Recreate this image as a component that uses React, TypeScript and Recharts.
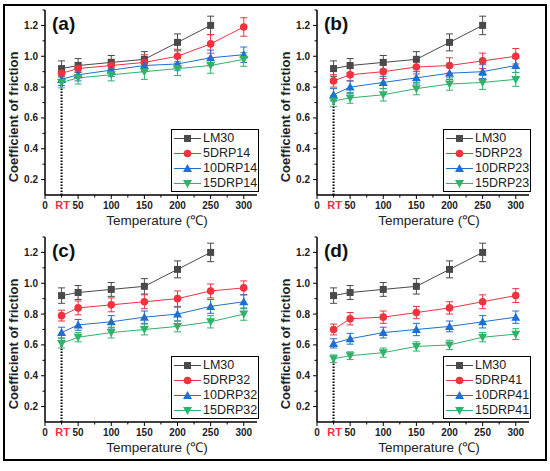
import React from "react";
import { LineChart, Line, XAxis, YAxis, ErrorBar, ReferenceLine } from "recharts";

// temperatures (RT plotted at 25)
const temps = [25, 50, 100, 150, 200, 250, 300];

const lm30 = [0.92, 0.94, 0.96, 0.98, 1.09, 1.2, null];
const lm30Err = [0.05, 0.045, 0.045, 0.05, 0.055, 0.06, null];

const drp14_5 = [0.89, 0.92, 0.94, 0.96, 1.0, 1.08, 1.19];
const drp14_5Err = [0.045, 0.04, 0.04, 0.05, 0.045, 0.06, 0.06];
const drp14_10 = [0.85, 0.88, 0.91, 0.94, 0.95, 0.99, 1.01];
const drp14_10Err = [0.04, 0.04, 0.04, 0.04, 0.04, 0.05, 0.05];
const drp14_15 = [0.83, 0.86, 0.88, 0.9, 0.92, 0.94, 0.98];
const drp14_15Err = [0.035, 0.04, 0.04, 0.05, 0.045, 0.05, 0.045];

const drp23_5 = [0.84, 0.88, 0.9, 0.93, 0.94, 0.97, 1.0];
const drp23_5Err = [0.04, 0.04, 0.045, 0.045, 0.05, 0.05, 0.05];
const drp23_10 = [0.75, 0.8, 0.83, 0.86, 0.89, 0.9, 0.94];
const drp23_10Err = [0.04, 0.04, 0.04, 0.04, 0.04, 0.045, 0.045];
const drp23_15 = [0.71, 0.73, 0.75, 0.79, 0.82, 0.83, 0.85];
const drp23_15Err = [0.035, 0.035, 0.04, 0.04, 0.04, 0.045, 0.045];

const drp32_5 = [0.79, 0.84, 0.86, 0.88, 0.9, 0.95, 0.97];
const drp32_5Err = [0.035, 0.045, 0.045, 0.045, 0.05, 0.045, 0.045];
const drp32_10 = [0.68, 0.73, 0.75, 0.78, 0.8, 0.85, 0.88];
const drp32_10Err = [0.035, 0.035, 0.04, 0.04, 0.045, 0.045, 0.045];
const drp32_15 = [0.61, 0.65, 0.68, 0.7, 0.72, 0.75, 0.8];
const drp32_15Err = [0.03, 0.03, 0.035, 0.035, 0.035, 0.04, 0.04];

const drp41_5 = [0.7, 0.77, 0.78, 0.81, 0.84, 0.88, 0.92];
const drp41_5Err = [0.035, 0.04, 0.04, 0.04, 0.04, 0.045, 0.045];
const drp41_10 = [0.61, 0.64, 0.68, 0.7, 0.72, 0.75, 0.78];
const drp41_10Err = [0.03, 0.035, 0.035, 0.04, 0.035, 0.04, 0.04];
const drp41_15 = [0.51, 0.53, 0.55, 0.59, 0.6, 0.65, 0.67];
const drp41_15Err = [0.025, 0.025, 0.03, 0.03, 0.03, 0.03, 0.035];

const xTicks = [0, 25, 50, 75, 100, 125, 150, 175, 200, 225, 250, 275, 300];
const yTicks = [0.2, 0.3, 0.4, 0.5, 0.6, 0.7, 0.8, 0.9, 1.0, 1.1, 1.2, 1.3];

const colors = ["#4a4a4a", "#f2323f", "#1f6fd1", "#2fb36a"];
const FONT = '"Liberation Sans", Arial, sans-serif';

const W = 275;
const H = 230;
const AXIS_X = 45;
const PLOT_BOTTOM = 195;

type PanelProps = {
  tag: string;
  names: string[];
  values: (number | null)[][];
  errors: (number | null)[][];
  left: number;
  top: number;
};

function Marker({ kind, cx, cy, color }: any) {
  if (cx == null || cy == null || isNaN(cy)) return <g />;
  if (kind === 0)
    return <rect x={cx - 3.5} y={cy - 3.5} width={7} height={7} fill={color} />;
  if (kind === 1) return <circle cx={cx} cy={cy} r={3.8} fill={color} />;
  if (kind === 2)
    return (
      <polygon
        points={`${cx},${cy - 4.5} ${cx + 4.5},${cy + 3.5} ${cx - 4.5},${cy + 3.5}`}
        fill={color}
      />
    );
  return (
    <polygon
      points={`${cx},${cy + 4.5} ${cx + 4.5},${cy - 3.5} ${cx - 4.5},${cy - 3.5}`}
      fill={color}
    />
  );
}

const XTick = ({ x, payload }: any) => {
  const v = payload.value;
  const major = v % 50 === 0;
  return (
    <g>
      <line x1={x} x2={x} y1={PLOT_BOTTOM} y2={PLOT_BOTTOM + (major ? 4 : 2.5)} stroke="#000" />
      {major && (
        <text x={x} y={PLOT_BOTTOM + 14} textAnchor="middle" fontSize={10} fontWeight="bold" fontFamily={FONT} fill="#222">
          {v}
        </text>
      )}
      {v === 25 && (
        <text x={x + 1} y={PLOT_BOTTOM + 14} textAnchor="middle" fontSize={11} fontWeight="bold" fontFamily={FONT} fill="#f2323f">
          RT
        </text>
      )}
    </g>
  );
};

const YTick = ({ y, payload }: any) => {
  const v = payload.value;
  const major = Math.round(v * 10) % 2 === 0 && v < 1.25;
  return (
    <g>
      <line x1={AXIS_X - (major ? 4 : 2.5)} x2={AXIS_X} y1={y} y2={y} stroke="#000" />
      {major && (
        <text x={AXIS_X - 7} y={y} dy={3.5} textAnchor="end" fontSize={10} fontWeight="bold" fontFamily={FONT} fill="#222">
          {v.toFixed(1)}
        </text>
      )}
    </g>
  );
};

function LegendBox({ names }: { names: string[] }) {
  return (
    <div
      style={{
        position: "absolute",
        left: 171,
        top: 129,
        width: 88,
        height: 63,
        border: "1.5px solid #000",
        boxSizing: "border-box",
        background: "#fff",
        paddingTop: 1,
      }}
    >
      {names.map((n, k) => (
        <div key={n} style={{ display: "flex", alignItems: "center", height: 15 }}>
          <svg width={31} height={15}>
            <line x1={2} x2={29} y1={7.5} y2={7.5} stroke={colors[k]} strokeWidth={1} />
            <Marker kind={k} cx={15.5} cy={7.5} color={colors[k]} />
          </svg>
          <span style={{ fontFamily: FONT, fontSize: 12.5, color: "#222", lineHeight: "15px" }}>{n}</span>
        </div>
      ))}
    </div>
  );
}

function Panel({ tag, names, values, errors, left, top }: PanelProps) {
  const rows = temps.map((t, i) => {
    const row: any = { t };
    values.forEach((v, k) => {
      row["s" + k] = v[i];
      row["e" + k] = errors[k][i];
    });
    return row;
  });
  const lowRT = Math.min(...values.map((v) => v[0] as number));
  return (
    <div style={{ position: "absolute", left, top, width: W, height: H }}>
      <LineChart width={W} height={H} data={rows} margin={{ top: 10, right: 18, left: 0, bottom: 0 }}>
        <XAxis
          dataKey="t"
          type="number"
          domain={[0, 320]}
          ticks={xTicks}
          interval={0}
          tick={<XTick />}
          tickLine={false}
          axisLine={{ stroke: "#000", strokeWidth: 1.5 }}
          height={35}
          label={(p: any) => (
            <text
              x={p.viewBox.x + p.viewBox.width / 2 + 6}
              y={PLOT_BOTTOM + 30}
              textAnchor="middle"
              fontSize={13.5}
              fontFamily={FONT}
              fill="#222"
            >
              Temperature (℃)
            </text>
          )}
        />
        <YAxis
          type="number"
          domain={[0.1, 1.3]}
          ticks={yTicks}
          interval={0}
          tick={<YTick />}
          tickLine={false}
          axisLine={{ stroke: "#000", strokeWidth: 1.5 }}
          width={AXIS_X}
          allowDataOverflow
          label={() => (
            <text
              transform="translate(13,117) rotate(-90)"
              dy="0.35em"
              textAnchor="middle"
              fontSize={13}
              fontWeight="bold"
              fontFamily={FONT}
              fill="#222"
            >
              Coefficient of friction
            </text>
          )}
        />
        <ReferenceLine
          segment={[
            { x: temps[0], y: 0.1 },
            { x: temps[0], y: lowRT },
          ]}
          stroke="#000"
          strokeWidth={2}
          strokeDasharray="1.5 1.5"
        />
        {names.map((n, k) => (
          <Line
            key={n}
            dataKey={"s" + k}
            name={n}
            stroke={colors[k]}
            strokeWidth={1}
            isAnimationActive={false}
            dot={(p: any) => <Marker key={n + p.index} kind={k} cx={p.cx} cy={p.cy} color={colors[k]} />}
            activeDot={false}
          >
            <ErrorBar dataKey={"e" + k} width={3.5} strokeWidth={1} stroke={colors[k]} direction="y" />
          </Line>
        ))}
      </LineChart>
      <div
        style={{
          position: "absolute",
          left: AXIS_X + 7,
          top: 14,
          fontFamily: FONT,
          fontSize: 19,
          fontWeight: "bold",
          lineHeight: 1,
          color: "#111",
        }}
      >
        {tag}
      </div>
      <LegendBox names={names} />
    </div>
  );
}

export default function App() {
  return (
    <div style={{ position: "absolute", left: 0, top: 0, width: 550, height: 471, background: "#fff" }}>
      <div
        style={{
          position: "absolute",
          left: 3,
          top: 4,
          width: 544,
          height: 457,
          border: "2px solid #000",
          boxSizing: "border-box",
        }}
      />
      <Panel
        tag="(a)"
        names={["LM30", "5DRP14", "10DRP14", "15DRP14"]}
        values={[lm30, drp14_5, drp14_10, drp14_15]}
        errors={[lm30Err, drp14_5Err, drp14_10Err, drp14_15Err]}
        left={0}
        top={0}
      />
      <Panel
        tag="(b)"
        names={["LM30", "5DRP23", "10DRP23", "15DRP23"]}
        values={[lm30, drp23_5, drp23_10, drp23_15]}
        errors={[lm30Err, drp23_5Err, drp23_10Err, drp23_15Err]}
        left={272}
        top={0}
      />
      <Panel
        tag="(c)"
        names={["LM30", "5DRP32", "10DRP32", "15DRP32"]}
        values={[lm30, drp32_5, drp32_10, drp32_15]}
        errors={[lm30Err, drp32_5Err, drp32_10Err, drp32_15Err]}
        left={0}
        top={227}
      />
      <Panel
        tag="(d)"
        names={["LM30", "5DRP41", "10DRP41", "15DRP41"]}
        values={[lm30, drp41_5, drp41_10, drp41_15]}
        errors={[lm30Err, drp41_5Err, drp41_10Err, drp41_15Err]}
        left={272}
        top={227}
      />
    </div>
  );
}
